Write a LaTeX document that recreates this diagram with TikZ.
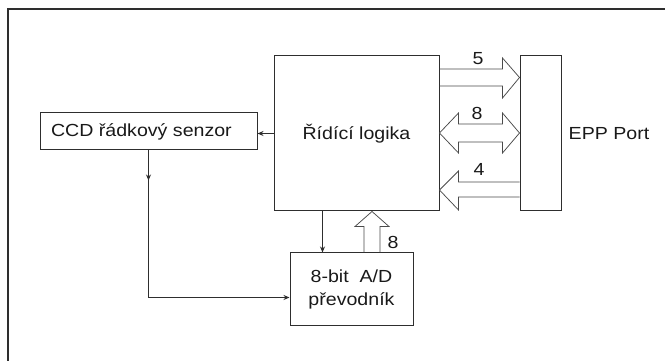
\documentclass[tikz,border=0pt]{standalone}
\usepackage{fontspec}
\setmainfont{Liberation Sans}[FakeStretch=1.12]
\usetikzlibrary{arrows.meta,calc,positioning}

\definecolor{linecol}{HTML}{2E2E2E}
\definecolor{buscol}{HTML}{4A4A4A}

\tikzset{
  blok/.style={draw=linecol, line width=1pt, inner sep=0pt},
  popis/.style={font=\fontsize{17.5}{23.5}\selectfont, text=black!90},
  tenka/.style={draw=linecol, line width=1pt, -{Stealth[length=6pt,width=5pt]}},
  sbernice/.style={draw=buscol, line width=0.75pt, line join=miter},
  ramec/.style={draw=linecol, line width=1.6pt}
}

\begin{document}
\begin{tikzpicture}[x=1pt, y=1pt]

    \useasboundingbox (0,0) rectangle (665,361);

    % Frame round the picture
    \draw[ramec] (8,0) -- (8,352) -- (665,352);

    % Blocks
    \node[blok, popis, minimum width=165pt, minimum height=155pt] (logic) at (356.5,227.5) {Řídící logika};
    \node[blok, minimum width=41pt, minimum height=155pt] (epp) at (540.5,227.5) {};
    \node[popis, inner sep=0pt, right=7pt of epp] (epplabel) {EPP Port};
    \node[blok, popis, inner xsep=11pt, minimum height=37pt] (ccd) at (148.5,229.5) {\makebox[195pt][l]{CCD řádkový senzor}};
    \node[blok, popis, minimum width=123pt, minimum height=73pt, align=center] (adc) at (351.5,71.5) {8-bit\ \ A/D\\převodník};

    % Thin signal lines
    \draw[tenka] (logic.west) -- (logic.west -| ccd.east);
    \draw[tenka] (ccd.south) -- ++(0,-30) coordinate (pulka);
    \draw[tenka] (pulka) |- ([yshift=-8pt]adc.west);
    \draw[tenka] ([xshift=-34pt]logic.south) -- ([xshift=-29pt]adc.north);

    % Bus arrows to the port
    \draw[sbernice] let \p1=(logic.east), \p2=(epp.west) in
        (\x1,292pt) -- (\x2-17pt,292pt) -- (\x2-17pt,303pt) -- (\x2,283.5pt)
        -- (\x2-17pt,263pt) -- (\x2-17pt,275pt) -- (\x1,275pt);
    \draw[sbernice] let \p1=(logic.east), \p2=(epp.west) in
        (\x1,228pt) -- (\x1+19pt,248pt) -- (\x1+19pt,237pt) -- (\x2-17pt,237pt)
        -- (\x2-17pt,248pt) -- (\x2,228pt) -- (\x2-17pt,208pt) -- (\x2-17pt,219pt)
        -- (\x1+19pt,219pt) -- (\x1+19pt,208pt) -- cycle;
    \draw[sbernice] let \p1=(logic.east), \p2=(epp.west) in
        (\x2,179pt) -- (\x1+19pt,179pt) -- (\x1+19pt,190pt) -- (\x1,171pt)
        -- (\x1+19pt,151pt) -- (\x1+19pt,164pt) -- (\x2,164pt);

    % Bus from the converter
    \draw[sbernice] let \p1=(adc.north), \p2=(logic.south) in
        (364pt,\y1) -- (364pt,\y2-15pt) -- (355pt,\y2-15pt) -- (372pt,\y2)
        -- (389pt,\y2-15pt) -- (380pt,\y2-15pt) -- (380pt,\y1);

    % Bus widths
    \node[popis, inner sep=0pt] (w5) at (478,302) {5};
    \node[popis, inner sep=0pt] (w8) at (477,248) {8};
    \node[popis, inner sep=0pt] (w4) at (479,192) {4};
    \node[popis, inner sep=0pt] (wad) at (393,119) {8};

\end{tikzpicture}
\end{document}
